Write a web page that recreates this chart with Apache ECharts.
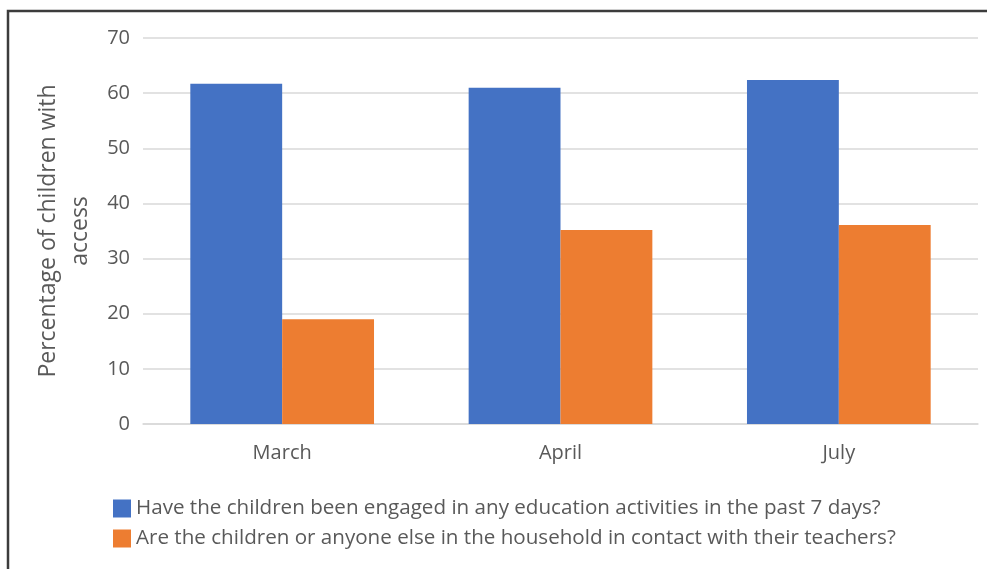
<!DOCTYPE html>
<html>
<head>
<meta charset="utf-8">
<script src="https://cdn.jsdelivr.net/npm/echarts@6/dist/echarts.min.js"></script>
<style>
html,body{margin:0;padding:0;background:#fff;}
#chart{width:987px;height:569px;}
</style>
</head>
<body>
<div id="chart"></div>
<script>
const categories = ["March", "April", "July"];
const seriesNames = [
  "Have the children been engaged in any education activities in the past 7 days?",
  "Are the children or anyone else in the household in contact with their teachers?"
];
const engagedValues = [61.7, 61.0, 62.4];
const contactValues = [19.0, 35.2, 36.1];
const yAxisTitle = "Percentage of children with\naccess";

const font = "'Open Sans', 'Noto Sans', sans-serif";
const textColor = "#595959";

const chart = echarts.init(document.getElementById('chart'), null, {renderer: 'canvas'});
chart.setOption({
  backgroundColor: '#ffffff',
  animation: false,
  textStyle: {fontFamily: font},
  graphic: [{
    type: 'rect',
    shape: {x: 8, y: 11, width: 1100, height: 700},
    style: {fill: 'none', stroke: '#3c3c3c', lineWidth: 2.5},
    silent: true
  }],
  grid: {left: 143, right: 9, top: 38, bottom: 145, containLabel: false},
  legend: {
    orient: 'vertical',
    left: 108,
    top: 493,
    itemWidth: 18,
    itemHeight: 18,
    itemGap: 9,
    icon: 'rect',
    textStyle: {fontFamily: font, fontSize: 20.6, color: textColor, padding: [0, 0, 0, 0]},
    data: seriesNames
  },
  xAxis: {
    type: 'category',
    data: categories,
    axisLine: {show: true, lineStyle: {color: '#d9d9d9', width: 1.5}},
    axisTick: {show: false},
    axisLabel: {fontFamily: font, fontSize: 20, color: textColor, margin: 19}
  },
  yAxis: {
    type: 'value',
    min: 0,
    max: 70,
    interval: 10,
    name: yAxisTitle,
    nameLocation: 'middle',
    nameGap: 46,
    nameRotate: 90,
    nameTextStyle: {fontFamily: font, fontSize: 23, color: textColor, lineHeight: 32, align: 'center'},
    axisLine: {show: false},
    axisTick: {show: false},
    axisLabel: {fontFamily: font, fontSize: 20, color: textColor, margin: 13},
    splitLine: {lineStyle: {color: '#d9d9d9', width: 1.5}}
  },
  series: [
    {
      name: seriesNames[0],
      type: 'bar',
      data: engagedValues,
      itemStyle: {color: '#4472C4'},
      barGap: '0%',
      barCategoryGap: '34%'
    },
    {
      name: seriesNames[1],
      type: 'bar',
      data: contactValues,
      itemStyle: {color: '#ED7D31'},
      barGap: '0%',
      barCategoryGap: '34%'
    }
  ]
});
</script>
</body>
</html>
